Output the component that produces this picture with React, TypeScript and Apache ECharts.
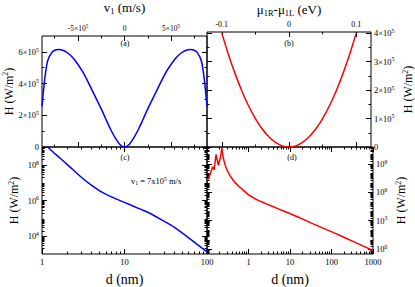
import React, { useEffect, useRef } from 'react';
import * as echarts from 'echarts';

// ---- Panel (a): H vs v1 ----
const vA = [-8.87e5, -8.7e5, -8.55e5, -8.26e5, -7.83e5, -7.5e5, -7.1e5, -6.5e5, -6.0e5, -5.5e5, -5.0e5, -4.5e5, -4.0e5, -3.5e5, -3.0e5, -2.5e5, -2.0e5, -1.5e5, -1.0e5, -0.5e5, 0,
  0.5e5, 1.0e5, 1.5e5, 2.0e5, 2.5e5, 3.0e5, 3.5e5, 4.0e5, 4.5e5, 5.0e5, 5.5e5, 6.0e5, 6.5e5, 7.1e5, 7.5e5, 7.83e5, 8.26e5, 8.55e5, 8.7e5, 8.87e5];
const hA = [2.57e5, 3.6e5, 4.4e5, 5.44e5, 5.95e5, 6.1e5, 6.15e5, 6.07e5, 5.88e5, 5.6e5, 5.2e5, 4.75e5, 4.2e5, 3.6e5, 3.0e5, 2.4e5, 1.75e5, 1.12e5, 0.58e5, 0.16e5, 0,
  0.16e5, 0.58e5, 1.12e5, 1.75e5, 2.4e5, 3.0e5, 3.6e5, 4.2e5, 4.75e5, 5.2e5, 5.6e5, 5.88e5, 6.07e5, 6.15e5, 6.1e5, 5.95e5, 5.44e5, 4.4e5, 3.6e5, 2.57e5];

// ---- Panel (b): H vs mu1R - mu1L ----
const muB = [-0.1, -0.09, -0.08, -0.07, -0.06, -0.05, -0.04, -0.03, -0.02, -0.01, 0, 0.01, 0.02, 0.03, 0.04, 0.05, 0.06, 0.07, 0.08, 0.09, 0.1];
const hB = [4.0e5, 3.24e5, 2.56e5, 1.96e5, 1.44e5, 1.0e5, 0.64e5, 0.36e5, 0.16e5, 0.04e5, 0, 0.04e5, 0.16e5, 0.36e5, 0.64e5, 1.0e5, 1.44e5, 1.96e5, 2.56e5, 3.24e5, 4.0e5];

// ---- Panel (c): H vs d (v1 = 7x10^5 m/s) ----
const dC = [1.17, 1.5, 2, 3, 4, 5, 6, 8, 10, 15, 20, 30, 40, 60, 100];
const hC = [1e9, 3.5e8, 1.1e8, 2e7, 7e6, 3.5e6, 2.2e6, 1.2e6, 7.8e5, 3.5e5, 2e5, 7e4, 3.2e4, 8e3, 1.3e3];

// ---- Panel (d): H vs d — oscillating part and decaying part ----
const dD1 = [0.1, 0.105, 0.118, 0.137, 0.148, 0.165, 0.188, 0.215, 0.227];
const hD1 = [1.8e7, 2.3e7, 7.2e7, 4.8e8, 2.2e8, 9.5e9, 6.9e8, 6.6e9, 4.4e10];
const dD2 = [0.227, 0.248, 0.3, 0.435, 0.7, 1.1, 1.72, 2.8, 5.26, 10, 33, 112, 330, 1000];
const hD2 = [4.4e10, 4.0e9, 2.5e8, 1.6e7, 2.1e6, 4.0e5, 1.35e5, 5.5e4, 1.74e4, 5.6e3, 550, 55, 6.5, 0.71];

// ---- Tick values ----
const vTicks = [-5e5, 0, 5e5];
const vMinor = [-7.5e5, -2.5e5, 2.5e5, 7.5e5];
const hATicks = [0, 2e5, 4e5, 6e5];
const hAMinor = [1e5, 3e5, 5e5];
const muTicks = [-0.1, 0, 0.1];
const muMinor = [-0.05, 0.05];
const hBTicks = [0, 1e5, 2e5, 3e5, 4e5];
const hBMinor = [0.5e5, 1.5e5, 2.5e5, 3.5e5];
const dCTicks = [1, 10, 100];
const hCTicks = [1e4, 1e6, 1e8];
const dDTicks = [0.1, 1, 10, 100, 1000];
const dDLabels = [1, 10, 100, 1000];
const hDTicks = [1, 1e3, 1e6, 1e9];

const FONT = 'Liberation Serif';
const lg = (v: number) => Math.log10(v);
const minorsLog = (lo: number, hi: number) => {
  const out: number[] = [];
  for (let e = lo; e < hi; e++) for (let k = 2; k <= 9; k++) out.push(e + Math.log10(k));
  return out;
};

const mkRich = (size: number) => ({
  n: { fontSize: size, fontFamily: FONT, color: '#000', lineHeight: size + 2 },
  s: { fontSize: size * 0.68, fontFamily: FONT, color: '#000', verticalAlign: 'top', lineHeight: size * 0.7 },
});
const nameRich = (size: number) => ({
  t: { fontSize: size, fontFamily: FONT, color: '#000', lineHeight: size + 2 },
  sub: { fontSize: size * 0.65, fontFamily: FONT, color: '#000', verticalAlign: 'bottom', lineHeight: size * 0.75 },
  sup: { fontSize: size * 0.65, fontFamily: FONT, color: '#000', verticalAlign: 'top', lineHeight: size * 0.65 },
});

const sci = (v: number) => {
  if (v === 0) return '{n|0}';
  const e = Math.floor(Math.log10(Math.abs(v)) + 1e-9);
  const m = Math.round(v / Math.pow(10, e));
  return `{n|${m}×10}{s|${e}}`;
};
const num = (v: number) => `{n|${v}}`;
const pow10 = (e: number) => `{n|10}{s|${Math.round(e)}}`;
const plain = (e: number) => `{n|${Math.round(Math.pow(10, Math.round(e)))}}`;

type Spec = {
  dim: 'x' | 'y'; grid: number; min: number; max: number; side: string;
  majors: number[]; minors: number[]; labels?: number[]; fmt?: (v: number) => string;
  labelSize?: number; name?: string; nameGap?: number; nameSize?: number;
};

const opposite: Record<string, string> = { top: 'bottom', bottom: 'top', left: 'right', right: 'left' };

function buildAxes(s: Spec) {
  const base = {
    type: 'value', gridIndex: s.grid, min: s.min, max: s.max, silent: true,
    splitLine: { show: false }, axisLine: { show: false, onZero: false }, minorTick: { show: false },
  };
  const tick = (vals: number[], len: number) => ({
    show: true, inside: true, length: len, customValues: vals, lineStyle: { color: '#000', width: 1 },
  });
  const ls = s.labelSize ?? 8.5;
  const main: any = {
    ...base, position: s.side, axisTick: tick(s.majors, 5),
    axisLabel: s.labels ? {
      show: true, customValues: s.labels, formatter: s.fmt, margin: 3,
      fontSize: ls, fontFamily: FONT, color: '#000', rich: mkRich(ls),
    } : { show: false },
  };
  if (s.name) {
    const ns = s.nameSize ?? 12;
    main.name = s.name;
    main.nameLocation = 'middle';
    main.nameGap = s.nameGap;
    main.nameRotate = s.dim === 'y' ? 90 : 0;
    main.nameTextStyle = { fontSize: ns, fontFamily: FONT, color: '#000', rich: nameRich(ns) };
  }
  const mirror = { ...base, position: opposite[s.side], axisTick: tick(s.majors, 5), axisLabel: { show: false } };
  const minA = { ...base, position: s.side, axisTick: tick(s.minors, 2.5), axisLabel: { show: false } };
  const minB = { ...base, position: opposite[s.side], axisTick: tick(s.minors, 2.5), axisLabel: { show: false } };
  return [main, mirror, minA, minB];
}

function buildOption() {
  const grids = [
    { left: 42, top: 32, width: 165, height: 115 },
    { left: 207, top: 32, width: 166, height: 115 },
    { left: 42, top: 147, width: 165, height: 115 },
    { left: 207, top: 147, width: 166, height: 115 },
  ].map((g) => ({ ...g, show: true, borderColor: '#000', borderWidth: 1, backgroundColor: 'transparent' }));

  const H = '{t|H (W/m}{sup|2}{t|)}';
  const xSpecs: Spec[] = [
    { dim: 'x', grid: 0, min: -8.87e5, max: 8.87e5, side: 'top', majors: vTicks, minors: vMinor, labels: vTicks, fmt: sci,
      labelSize: 7.5, name: '{t|v}{sub|1}{t| (m/s)}', nameGap: 21, nameSize: 13 },
    { dim: 'x', grid: 1, min: -0.122, max: 0.122, side: 'top', majors: muTicks, minors: muMinor, labels: muTicks,
      fmt: num, labelSize: 8, name: '{t|μ}{sub|1R}{t|-μ}{sub|1L}{t| (eV)}', nameGap: 15, nameSize: 13 },
    { dim: 'x', grid: 2, min: 0, max: 2, side: 'bottom', majors: dCTicks.map(lg), minors: minorsLog(0, 2),
      labels: dCTicks.map(lg), fmt: plain, name: '{t|d (nm)}', nameGap: 17, nameSize: 14 },
    { dim: 'x', grid: 3, min: -1, max: 3, side: 'bottom', majors: dDTicks.map(lg), minors: minorsLog(-1, 3),
      labels: dDLabels.map(lg), fmt: plain, name: '{t|d (nm)}', nameGap: 17, nameSize: 14 },
  ];
  const ySpecs: Spec[] = [
    { dim: 'y', grid: 0, min: 0, max: 7e5, side: 'left', majors: hATicks, minors: hAMinor, labels: hATicks, fmt: sci,
      name: H, nameGap: 24 },
    { dim: 'y', grid: 1, min: 0, max: 4.04e5, side: 'right', majors: hBTicks, minors: hBMinor, labels: hBTicks, fmt: sci,
      name: H, nameGap: 30 },
    { dim: 'y', grid: 2, min: 3, max: 9, side: 'left', majors: hCTicks.map(lg), minors: minorsLog(3, 9),
      labels: hCTicks.map(lg), fmt: pow10, name: H, nameGap: 21 },
    { dim: 'y', grid: 3, min: -0.52, max: 10.77, side: 'right', majors: hDTicks.map(lg),
      minors: minorsLog(-1, 11).filter((v) => v > -0.52 && v < 10.77),
      labels: hDTicks.map(lg), fmt: pow10, name: H, nameGap: 21 },
  ];

  const xAxis: any[] = [];
  const yAxis: any[] = [];
  const xMain: number[] = [];
  const yMain: number[] = [];
  xSpecs.forEach((s) => { xMain.push(xAxis.length); xAxis.push(...buildAxes(s)); });
  ySpecs.forEach((s) => { yMain.push(yAxis.length); yAxis.push(...buildAxes(s)); });

  const line = (i: number, data: number[][], color: string, smooth: number | boolean) => ({
    type: 'line', xAxisIndex: xMain[i], yAxisIndex: yMain[i], data, showSymbol: false, symbol: 'none',
    smooth, lineStyle: { color, width: 1.5 }, clip: true,
  });

  const series = [
    line(0, vA.map((v, i) => [v, hA[i]]), '#0000ff', 0.3),
    line(1, muB.map((v, i) => [v, hB[i]]), '#ff0000', 0.3),
    line(2, dC.map((v, i) => [lg(v), lg(hC[i])]), '#0000ff', 0.3),
    line(3, dD1.map((v, i) => [lg(v), lg(hD1[i])]), '#ff0000', false),
    line(3, dD2.map((v, i) => [lg(v), lg(hD2[i])]), '#ff0000', 0.3),
  ];

  const letter = (txt: string, x: number, y: number) => ({
    type: 'text', x, y, style: { text: txt, font: `8px "${FONT}"`, fill: '#000', textAlign: 'center', textVerticalAlign: 'middle' },
  });

  return {
    animation: false,
    backgroundColor: '#fff',
    grid: grids,
    xAxis,
    yAxis,
    series,
    graphic: [
      letter('(a)', 125, 43),
      letter('(b)', 289, 43),
      letter('(c)', 125, 157),
      letter('(d)', 292, 157),
      {
        type: 'text', x: 131, y: 181,
        style: {
          text: '{t|v}{b|1}{t| = 7x10}{p|5}{t| m/s}',
          fill: '#000',
          textVerticalAlign: 'middle',
          rich: {
            t: { fontSize: 8.5, fontFamily: FONT, color: '#000', fill: '#000', lineHeight: 10 },
            b: { fontSize: 5.5, fontFamily: FONT, color: '#000', fill: '#000', verticalAlign: 'bottom', lineHeight: 6 },
            p: { fontSize: 5.5, fontFamily: FONT, color: '#000', fill: '#000', verticalAlign: 'top', lineHeight: 6 },
          },
        },
      },
    ],
  };
}

export default function App() {
  const ref = useRef<HTMLDivElement>(null);
  useEffect(() => {
    document.body.style.margin = '0';
    const chart = echarts.init(ref.current!, null, { renderer: 'svg' });
    chart.setOption(buildOption() as any);
    return () => chart.dispose();
  }, []);
  return <div ref={ref} style={{ position: 'absolute', left: 0, top: 0, width: 415, height: 287, background: '#fff' }} />;
}
